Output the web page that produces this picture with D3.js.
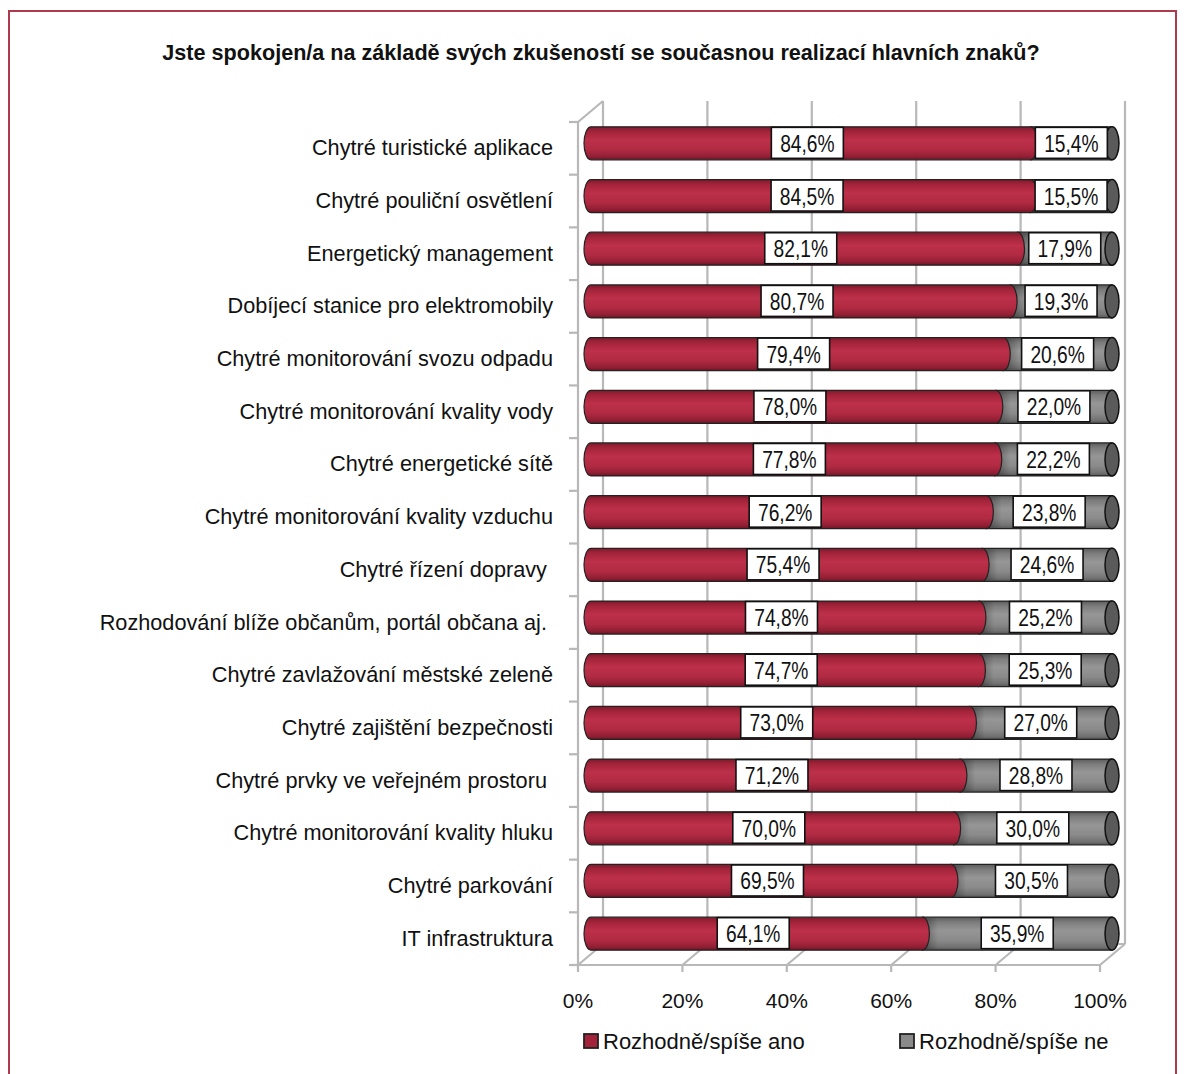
<!DOCTYPE html>
<html><head><meta charset="utf-8">
<script src="https://cdn.jsdelivr.net/npm/d3@7"></script>
<style>body{margin:0;background:#fff}</style>
</head><body>
<script>
const categories = [
 "Chytré turistické aplikace","Chytré pouliční osvětlení","Energetický management",
 "Dobíjecí stanice pro elektromobily","Chytré monitorování svozu odpadu","Chytré monitorování kvality vody",
 "Chytré energetické sítě","Chytré monitorování kvality vzduchu","Chytré řízení dopravy ",
 "Rozhodování blíže občanům, portál občana aj. ","Chytré zavlažování městské zeleně","Chytré zajištění bezpečnosti",
 "Chytré prvky ve veřejném prostoru ","Chytré monitorování kvality hluku","Chytré parkování","IT infrastruktura"];
const yesValues = [84.6,84.5,82.1,80.7,79.4,78.0,77.8,76.2,75.4,74.8,74.7,73.0,71.2,70.0,69.5,64.1];
const noValues  = [15.4,15.5,17.9,19.3,20.6,22.0,22.2,23.8,24.6,25.2,25.3,27.0,28.8,30.0,30.5,35.9];
const seriesNames = ["Rozhodně/spíše ano","Rozhodně/spíše ne"];
const tickValues = [0,20,40,60,80,100];
const title = "Jste spokojen/a na základě svých zkušeností se současnou realizací hlavních znaků?";

const W=1184,H=1074;
const FONT="'Liberation Sans', Arial, sans-serif";
const svg=d3.select("body").append("svg").attr("width",W).attr("height",H);
const defs=svg.append("defs");
function grad(id,stops){const g=defs.append("linearGradient").attr("id",id).attr("x1",0).attr("y1",0).attr("x2",0).attr("y2",1);
 stops.forEach(s=>g.append("stop").attr("offset",s[0]).attr("stop-color",s[1]));}
grad("gRed",[[0,"#7e1a2b"],[0.15,"#a3243a"],[0.4,"#bd3049"],[0.7,"#b02a42"],[0.9,"#921f34"],[1,"#6e1524"]]);
grad("gGray",[[0,"#5c5c5c"],[0.15,"#7c7c7c"],[0.4,"#969696"],[0.7,"#8a8a8a"],[0.9,"#727272"],[1,"#555"]]);
const hg=defs.append("linearGradient").attr("id","gShade").attr("x1",0).attr("x2",1).attr("y1",0).attr("y2",0);
hg.append("stop").attr("offset",0).attr("stop-color","#000").attr("stop-opacity",0.35);
hg.append("stop").attr("offset",1).attr("stop-color","#000").attr("stop-opacity",0);

// border
svg.append("rect").attr("x",9).attr("y",11).attr("width",1167).attr("height",1080)
 .attr("fill","none").attr("stroke","#b0394f").attr("stroke-width",2);

svg.append("text").attr("x",601).attr("y",60).attr("text-anchor","middle")
 .attr("font-family",FONT).attr("font-weight","bold").attr("font-size",21.6)
 .attr("fill","#111").text(title);

// frame geometry
const fx0=578, fx1=1100, fy0=122, fy1=965, ddx=25, ddy=-21;
const xf=d3.scaleLinear().domain([0,100]).range([fx0,fx1]);
const yBand=d3.scaleBand().domain(categories).range([fy0,fy1]);
const xb=d3.scaleLinear().domain([0,100]).range([584,1112]);

const frame=svg.append("g").attr("stroke","#b8b8b8").attr("stroke-width",2.2).attr("fill","none");
tickValues.forEach(t=>{
 frame.append("line").attr("x1",xf(t)+ddx).attr("x2",xf(t)+ddx).attr("y1",fy0+ddy).attr("y2",fy1+ddy);
 frame.append("line").attr("x1",xf(t)).attr("x2",xf(t)+ddx).attr("y1",fy1).attr("y2",fy1+ddy);
 frame.append("line").attr("x1",xf(t)).attr("x2",xf(t)).attr("y1",fy1).attr("y2",fy1+7);
});
frame.append("line").attr("x1",xf(0)+ddx).attr("x2",xf(100)+ddx).attr("y1",fy1+ddy).attr("y2",fy1+ddy);
frame.append("line").attr("x1",xf(0)).attr("x2",xf(100)).attr("y1",fy1).attr("y2",fy1);
frame.append("line").attr("x1",fx0).attr("x2",fx0).attr("y1",fy0).attr("y2",fy1);
frame.append("line").attr("x1",fx0).attr("x2",fx0+ddx).attr("y1",fy0).attr("y2",fy0+ddy);
const bounds=categories.map(c=>yBand(c)).concat([fy1]);
bounds.forEach(y=>frame.append("line").attr("x1",fx0-9).attr("x2",fx0).attr("y1",y).attr("y2",y));

// category labels
svg.append("g").selectAll("text").data(categories).join("text")
 .attr("x",553).attr("y",c=>yBand(c)+yBand.bandwidth()/2+7)
 .attr("text-anchor","end").attr("font-family",FONT).attr("font-size",21.7)
 .style("white-space","pre").attr("fill","#111").text(c=>c);

// bars
const bh=33, rx=7;
const bars=svg.append("g");
const fmt=v=>v.toFixed(1).replace(".",",")+"%";
categories.forEach((c,i)=>{
 const cy=yBand(c)+yBand.bandwidth()/2-5;
 const y0=cy-bh/2, y1=cy+bh/2;
 const a=xb(0), m=xb(yesValues[i]), e=xb(yesValues[i]+noValues[i]);
 bars.append("path").attr("d",`M${m},${y0} L${e},${y0} L${e},${y1} L${m},${y1} Z`)
  .attr("fill","url(#gGray)").attr("stroke","#222").attr("stroke-width",1.2);
 bars.append("rect").attr("x",m).attr("y",y0+1).attr("width",rx*2.2).attr("height",bh-2).attr("fill","url(#gShade)");
 bars.append("path").attr("d",`M${m},${y0} L${a+rx},${y0} A${rx},${bh/2} 0 0 0 ${a+rx},${y1} L${m},${y1} A${rx},${bh/2} 0 0 0 ${m},${y0} Z`)
  .attr("fill","url(#gRed)").attr("stroke","#222").attr("stroke-width",1.2);
 bars.append("ellipse").attr("cx",e).attr("cy",cy).attr("rx",rx).attr("ry",bh/2)
  .attr("fill","#5a5a5a").attr("stroke","#111").attr("stroke-width",1.5);
 [[(a+m)/2,yesValues[i]],[(m+e)/2,noValues[i]]].forEach(([lx,v])=>{
  bars.append("rect").attr("x",lx-36).attr("y",cy-16).attr("width",72).attr("height",31)
   .attr("fill","#fff").attr("stroke","#111").attr("stroke-width",1.6);
  bars.append("text").attr("transform",`translate(${lx},${cy+8.5}) scale(0.8,1)`).attr("text-anchor","middle")
   .attr("font-family",FONT).attr("font-size",24).attr("fill","#111").text(fmt(v));
 });
});

// tick labels
svg.append("g").selectAll("text").data(tickValues).join("text")
 .attr("x",t=>xf(t)).attr("y",1008).attr("text-anchor","middle")
 .attr("font-family",FONT).attr("font-size",21).attr("fill","#111")
 .text(t=>t+"%");

// legend
const leg=svg.append("g");
const legX=[584,900], legCol=["#a3243a","#8a8a8a"];
seriesNames.forEach((s,i)=>{
 leg.append("rect").attr("x",legX[i]).attr("y",1034).attr("width",14).attr("height",14)
  .attr("fill",legCol[i]).attr("stroke","#222").attr("stroke-width",1.8);
 leg.append("text").attr("x",legX[i]+19).attr("y",1049).attr("font-family",FONT)
  .attr("font-size",22).attr("fill","#111").text(s);
});
</script>
</body></html>
